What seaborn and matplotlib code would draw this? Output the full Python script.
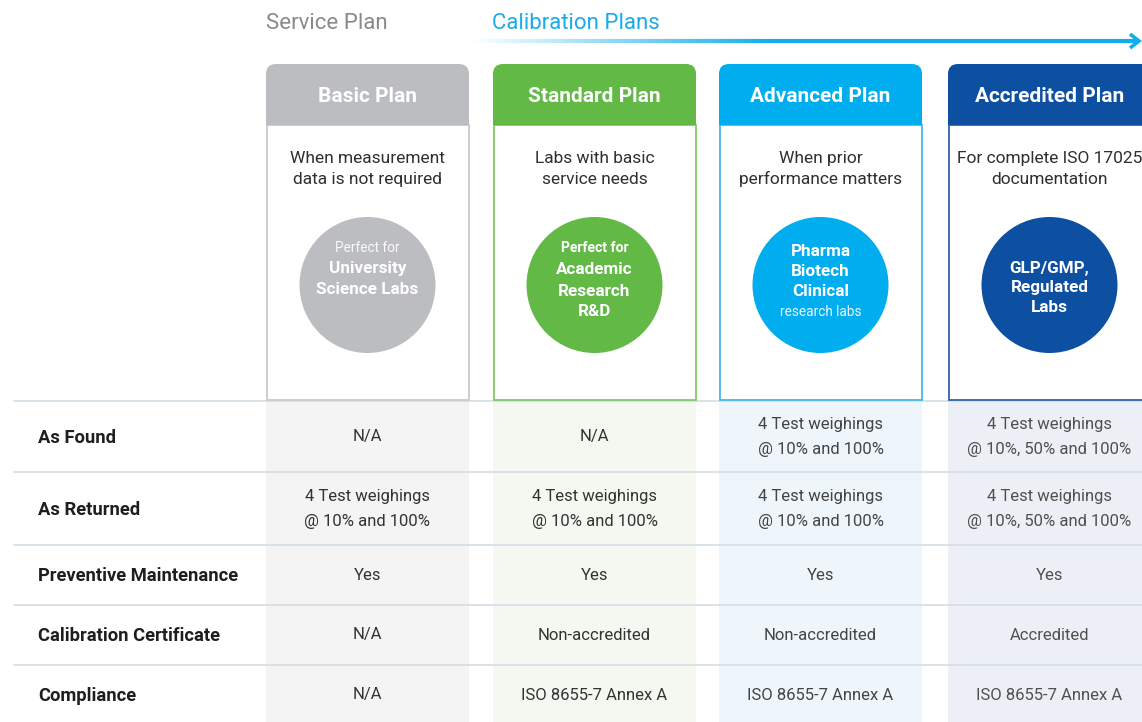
import numpy as np
import matplotlib
matplotlib.use("Agg")
import matplotlib.pyplot as plt
import seaborn as sns
from matplotlib.patches import FancyBboxPatch, Rectangle, Circle
from matplotlib.collections import LineCollection

# ---------------- data ----------------
plans = ["Basic Plan", "Standard Plan", "Advanced Plan", "Accredited Plan"]
descriptions = ["When measurement\ndata is not required",
                "Labs with basic\nservice needs",
                "When prior\nperformance matters",
                "For complete ISO 17025\ndocumentation"]
circle_lines = [
    [("Perfect for", "light"), ("University", "bold"), ("Science Labs", "bold")],
    [("Perfect for", "smallbold"), ("Academic", "bold"), ("Research", "bold"), ("R&D", "bold")],
    [("Pharma", "bold"), ("Biotech", "bold"), ("Clinical", "bold"), ("research labs", "light")],
    [("GLP/GMP,", "bold"), ("Regulated", "bold"), ("Labs", "bold")],
]
row_labels = ["As Found", "As Returned", "Preventive Maintenance",
              "Calibration Certificate", "Compliance"]
cells_basic = ["N/A", "4 Test weighings\n@ 10% and 100%", "Yes", "N/A", "N/A"]
cells_standard = ["N/A", "4 Test weighings\n@ 10% and 100%", "Yes", "Non-accredited",
                  "ISO 8655-7 Annex A"]
cells_advanced = ["4 Test weighings\n@ 10% and 100%", "4 Test weighings\n@ 10% and 100%",
                  "Yes", "Non-accredited", "ISO 8655-7 Annex A"]
cells_accredited = ["4 Test weighings\n@ 10%, 50% and 100%",
                    "4 Test weighings\n@ 10%, 50% and 100%",
                    "Yes", "Accredited", "ISO 8655-7 Annex A"]
cells = [cells_basic, cells_standard, cells_advanced, cells_accredited]
group_titles = ["Service Plan", "Calibration Plans"]

# ---------------- style ----------------
header_colors = ["#bcbdc0", "#62b946", "#00adef", "#0d4fa0"]
border_colors = ["#c9c9cb", "#80c868", "#45b6ea", "#2f62ad"]
cell_bg = ["#f4f4f4", "#f4f8f1", "#eef6fc", "#eceff6"]
cell_fg = ["#333333", "#333333", "#444444", "#505050"]

sns.set_style("white")
BOLD = ["Roboto", "DejaVu Sans"]
REG = ["Roboto", "DejaVu Sans"]

W, H = 1142, 722
fig = plt.figure(figsize=(W / 100, H / 100), dpi=100)
ax = fig.add_axes([0, 0, 1, 1])
ax.set_xlim(0, W)
ax.set_ylim(H, 0)
ax.axis("off")

col_left = [266, 493, 719, 948]
col_w = 203
head_top, head_bot, box_bot = 64, 125, 400
circ_y, circ_r = 285, 68
row_lines = [401, 472, 545, 605, 665]
row_centers = [437, 509, 575, 635, 695]

# top titles
ax.text(266, 23.5, group_titles[0], fontsize=16, color="#8a8a8c", family=REG,
        va="center", ha="left")
ax.text(492, 23.5, group_titles[1], fontsize=16, color="#1aabe8", family=REG,
        va="center", ha="left")

# gradient arrow
xs = np.linspace(470, 1138, 200)
segs = [[(xs[i], 41), (xs[i + 1], 41)] for i in range(len(xs) - 1)]
c0 = np.array(matplotlib.colors.to_rgb("#ffffff"))
c1 = np.array(matplotlib.colors.to_rgb("#12aeea"))
t = np.clip((xs[:-1] - 470) / 300, 0, 1)
cols = [tuple(c0 * (1 - v) + c1 * v) for v in t]
ax.add_collection(LineCollection(segs, colors=cols, linewidths=3, capstyle="butt"))
ax.plot([1130, 1139, 1130], [34, 41, 48], color="#12aeea", lw=2.6,
        solid_capstyle="butt", solid_joinstyle="miter")

# table backgrounds
for i in range(4):
    ax.add_patch(Rectangle((col_left[i], row_lines[0]), col_w, H - row_lines[0],
                           facecolor=cell_bg[i], edgecolor="none", zorder=0))
for y in row_lines:
    ax.plot([14, W], [y, y], color="#d3dee6", lw=1.2, zorder=1)

# plan cards
for i, p in enumerate(plans):
    x0 = col_left[i]
    cx = x0 + col_w / 2
    ax.add_patch(Rectangle((x0 + 0.5, head_bot), col_w - 1, box_bot - head_bot,
                           facecolor="white", edgecolor=border_colors[i], lw=1.3, zorder=2))
    ax.add_patch(FancyBboxPatch((x0, head_top), col_w, head_bot - head_top,
                                boxstyle="round,pad=0,rounding_size=10",
                                facecolor=header_colors[i], edgecolor="none", zorder=3))
    ax.add_patch(Rectangle((x0, head_top + 20), col_w, head_bot - head_top - 20,
                           facecolor=header_colors[i], edgecolor="none", zorder=3))
    ax.text(cx, 96, p, fontsize=15, fontweight="bold", color="white", family=BOLD,
            ha="center", va="center", zorder=4)
    ax.text(cx, 169, descriptions[i], fontsize=12.5, color="#2f2f2f", family=REG,
            ha="center", va="center", linespacing=1.45, zorder=4)
    ax.add_patch(Circle((cx, circ_y), circ_r, facecolor=header_colors[i],
                        edgecolor="none", zorder=4))
    lines = circle_lines[i]
    ystarts = {0: 248, 1: 248, 2: 251, 3: 268}
    steps = {0: [0, 21, 42], 1: [0, 22, 43, 63], 2: [0, 20, 40, 61], 3: [0, 19.5, 39]}
    for k, (txt, kind) in enumerate(lines):
        yy = ystarts[i] + steps[i][k]
        if kind == "bold":
            ax.text(cx, yy, txt, fontsize=12.3, fontweight="bold", color="white",
                    family=BOLD, ha="center", va="center", zorder=5)
        elif kind == "smallbold":
            ax.text(cx, yy, txt, fontsize=10, fontweight="bold", color="white",
                    family=BOLD, ha="center", va="center", zorder=5)
        else:
            ax.text(cx, yy, txt, fontsize=9.8, color="white", alpha=0.9, family=REG,
                    ha="center", va="center", zorder=5)
    for r, val in enumerate(cells[i]):
        ax.text(cx, row_centers[r], val, fontsize=12, color=cell_fg[i], family=REG,
                ha="center", va="center", linespacing=1.8, zorder=5)

for r, lab in enumerate(row_labels):
    ax.text(38, row_centers[r] + 1, lab, fontsize=13.2, fontweight="bold", color="#1e1e1e",
            family=BOLD, ha="left", va="center", zorder=5)

fig.savefig("out.png", dpi=100)
